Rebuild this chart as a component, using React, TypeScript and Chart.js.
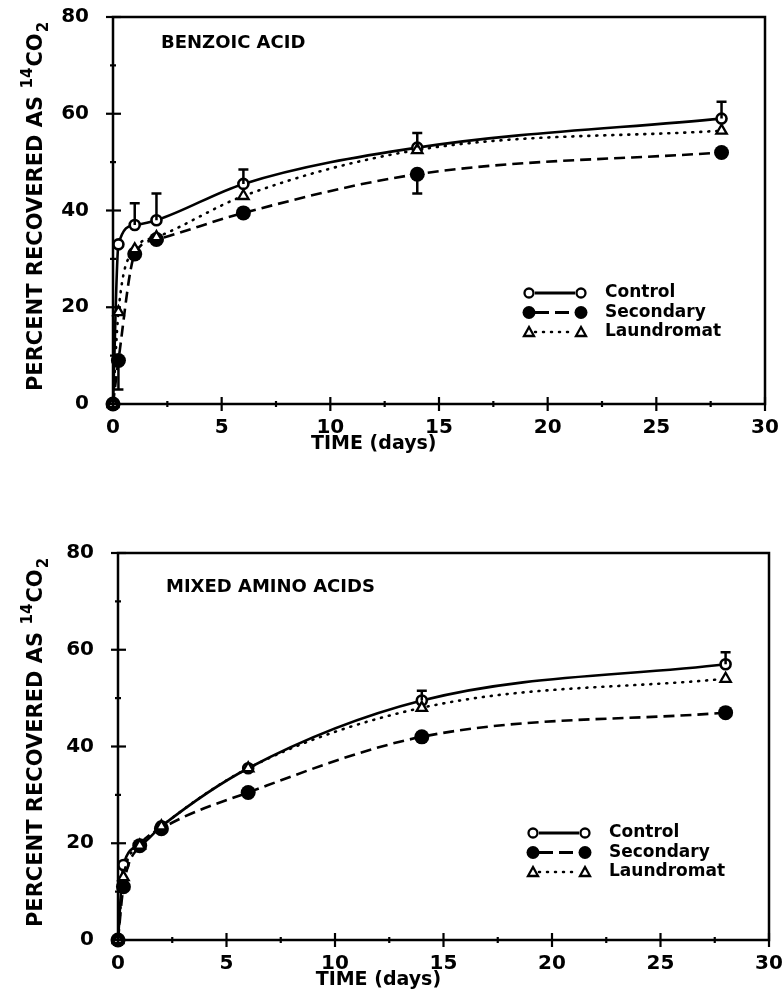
import React, { useEffect, useRef } from "react";
import { Chart, registerables } from "chart.js";

Chart.register(...registerables);

// ---- data ----
const days = [0, 0.25, 1, 2, 6, 14, 28];
const xTicks = [0, 5, 10, 15, 20, 25, 30];
const yTicks = [0, 20, 40, 60, 80];
const seriesNames = ["Control", "Secondary", "Laundromat"];

const benzoicControl = [0, 33, 37, 38, 45.5, 53, 59];
const benzoicControlErrUp = [0, 0, 4.5, 5.5, 3, 3, 3.5];
const benzoicSecondary = [0, 9, 31, 34, 39.5, 47.5, 52];
const benzoicSecondaryErrDown = [0, 6, 0, 0, 0, 4, 0];
const benzoicLaundromat = [0, 19, 32, 34.5, 43, 52.5, 56.5];

const aminoControl = [0, 15.5, 19.5, 23.5, 35.5, 49.5, 57];
const aminoControlErrUp = [0, 0, 0, 0, 0, 2, 2.5];
const aminoSecondary = [0, 11, 19.5, 23, 30.5, 42, 47];
const aminoSecondaryErrDown = [0, 0, 0, 0, 0, 0, 0];
const aminoLaundromat = [0, 13, 19.5, 23.5, 35.5, 48, 54];

const FONT = "'DejaVu Sans', 'Liberation Sans', sans-serif";

const toXY = (vals: number[]) => vals.map((v, i) => ({ x: days[i], y: v }));

const DASH_SEC = [11, 6];
const DASH_LAU = [1, 7];

const decorPlugin = {
  id: "decor",
  afterDatasetsDraw(chart: any) {
    const cfg = chart.options.plugins.decor;
    const { ctx, chartArea } = chart;
    const xs = chart.scales.x;
    const ys = chart.scales.y;
    const L = chartArea.left, R = chartArea.right, T = chartArea.top, B = chartArea.bottom;
    ctx.save();
    ctx.strokeStyle = "#000";
    ctx.fillStyle = "#000";
    // frame
    ctx.lineWidth = 2.5;
    ctx.setLineDash([]);
    ctx.strokeRect(L, T, R - L, B - T);
    // ticks
    ctx.lineWidth = 2.2;
    for (let v = 0; v <= 80; v += 10) {
      const py = ys.getPixelForValue(v);
      const major = v % 20 === 0;
      ctx.beginPath();
      ctx.moveTo(L - (major ? 7 : 3), py);
      ctx.lineTo(L + (major ? 8 : 3), py);
      ctx.stroke();
    }
    for (let v = 0; v <= 30; v += 2.5) {
      const px = xs.getPixelForValue(v);
      const major = v % 5 === 0;
      ctx.beginPath();
      ctx.moveTo(px, B - (major ? 7 : 3));
      ctx.lineTo(px, B + (major ? 7 : 3));
      ctx.stroke();
    }
    // error bars
    ctx.lineWidth = 2.5;
    const drawErr = (vals: number[], errs: number[], dir: number) => {
      vals.forEach((v, i) => {
        const e = errs[i];
        if (!e) return;
        const px = xs.getPixelForValue(days[i]);
        const p0 = ys.getPixelForValue(v);
        const p1 = ys.getPixelForValue(v + dir * e);
        ctx.beginPath();
        ctx.moveTo(px, p0);
        ctx.lineTo(px, p1);
        ctx.moveTo(px - 5, p1);
        ctx.lineTo(px + 5, p1);
        ctx.stroke();
      });
    };
    drawErr(cfg.control, cfg.controlErrUp, 1);
    drawErr(cfg.secondary, cfg.secondaryErrDown, -1);

    // panel title
    ctx.font = `bold 18px ${FONT}`;
    ctx.textBaseline = "alphabetic";
    ctx.textAlign = "left";
    ctx.fillText(cfg.title, L + 48, T + cfg.titleOffset);

    // legend
    const lx0 = R - 236, lx1 = R - 184, ltx = R - 160;
    const drawMarker = (k: number, x: number, y: number, s: number) => {
      ctx.setLineDash([]);
      ctx.lineWidth = 2.3;
      if (k === 0) {
        ctx.beginPath();
        ctx.arc(x, y, 4.5 * s, 0, Math.PI * 2);
        ctx.fillStyle = "#fff";
        ctx.fill();
        ctx.stroke();
      } else if (k === 1) {
        ctx.beginPath();
        ctx.arc(x, y, 6.5 * s, 0, Math.PI * 2);
        ctx.fillStyle = "#000";
        ctx.fill();
      } else {
        ctx.beginPath();
        ctx.moveTo(x, y - 5 * s);
        ctx.lineTo(x + 5 * s, y + 4 * s);
        ctx.lineTo(x - 5 * s, y + 4 * s);
        ctx.closePath();
        ctx.fillStyle = "#fff";
        ctx.fill();
        ctx.stroke();
      }
      ctx.fillStyle = "#000";
    };
    seriesNames.forEach((name, k) => {
      const y = T + cfg.legendTop + k * 19.5;
      ctx.lineWidth = k === 2 ? 2.5 : 2.8;
      ctx.lineCap = k === 2 ? "round" : "butt";
      ctx.setLineDash(k === 0 ? [] : k === 1 ? [14, 6] : DASH_LAU);
      ctx.beginPath();
      ctx.moveTo(lx0 + 6, y);
      ctx.lineTo(lx1 - 6, y);
      ctx.stroke();
      ctx.lineCap = "butt";
      drawMarker(k, lx0, y, 1);
      drawMarker(k, lx1, y, 1);
      ctx.font = `bold 17px ${FONT}`;
      ctx.textBaseline = "middle";
      ctx.fillText(name, ltx, y);
    });

    // x title
    ctx.font = `bold 19px ${FONT}`;
    ctx.textBaseline = "alphabetic";
    ctx.textAlign = "center";
    ctx.fillText("TIME (days)", L + (R - L) * 0.4, B + 45);

    // y title (rotated) with superscript/subscript
    const mainFont = `bold 21px ${FONT}`;
    const smallFont = `bold 15px ${FONT}`;
    ctx.font = mainFont;
    const p1 = "PERCENT RECOVERED AS ";
    const w1 = ctx.measureText(p1).width;
    const w3 = ctx.measureText("CO").width;
    ctx.font = smallFont;
    const w2 = ctx.measureText("14").width;
    const w4 = ctx.measureText("2").width;
    const total = w1 + w2 + w3 + w4 + 2;
    const cy = (T + B) / 2 + cfg.yTitleShift;
    ctx.translate(cfg.yTitleX, cy);
    ctx.rotate(-Math.PI / 2);
    ctx.textAlign = "left";
    let cx = -total / 2;
    ctx.font = mainFont;
    ctx.fillText(p1, cx, 0);
    cx += w1;
    ctx.font = smallFont;
    ctx.fillText("14", cx, -10);
    cx += w2 + 1;
    ctx.font = mainFont;
    ctx.fillText("CO", cx, 0);
    cx += w3 + 1;
    ctx.font = smallFont;
    ctx.fillText("2", cx, 6);
    ctx.restore();
  },
};

type PanelProps = {
  height: number;
  areaTop: number;
  areaBottom: number;
  areaLeft: number;
  areaRight: number;
  title: string;
  titleOffset: number;
  legendTop: number;
  control: number[];
  controlErrUp: number[];
  secondary: number[];
  secondaryErrDown: number[];
  laundromat: number[];
};

function Panel(p: PanelProps) {
  const ref = useRef<HTMLCanvasElement>(null);
  useEffect(() => {
    const canvas = ref.current!;
    const common = {
      borderColor: "#000",
      borderWidth: 2.6,
      fill: false,
      cubicInterpolationMode: "monotone" as const,
      clip: false as any,
      pointBorderColor: "#000",
    };
    const chart = new Chart(canvas, {
      type: "line",
      data: {
        datasets: [
          {
            ...common,
            label: "Laundromat",
            data: toXY(p.laundromat),
            borderDash: DASH_LAU,
            borderCapStyle: "round",
            pointStyle: "triangle",
            pointRadius: 6,
            pointBackgroundColor: "#fff",
            pointBorderWidth: 2.3,
          },
          {
            ...common,
            label: "Secondary",
            data: toXY(p.secondary),
            borderDash: DASH_SEC,
            pointStyle: "circle",
            pointRadius: 7.5,
            pointBackgroundColor: "#000",
            pointBorderWidth: 0,
          },
          {
            ...common,
            label: "Control",
            data: toXY(p.control),
            pointStyle: "circle",
            pointRadius: 5,
            pointBackgroundColor: "#fff",
            pointBorderWidth: 2.6,
          },
        ],
      },
      options: {
        animation: false,
        responsive: false,
        maintainAspectRatio: false,
        layout: {
          padding: { top: p.areaTop, right: 782 - p.areaRight, left: 0, bottom: 0 },
        },
        scales: {
          x: {
            type: "linear",
            min: 0,
            max: 30,
            afterFit: (s: any) => {
              s.height = p.height - p.areaBottom;
              s.paddingLeft = 0;
              s.paddingRight = 0;
            },
            afterBuildTicks: (s: any) => {
              s.ticks = xTicks.map((v) => ({ value: v }));
            },
            grid: { display: false, drawTicks: false },
            border: { display: false },
            ticks: {
              color: "#000",
              padding: 12,
              font: { family: FONT, size: 20, weight: "bold" },
              maxRotation: 0,
            },
          },
          y: {
            type: "linear",
            min: 0,
            max: 80,
            afterFit: (s: any) => {
              s.width = p.areaLeft;
              s.paddingTop = 0;
              s.paddingBottom = 0;
            },
            afterBuildTicks: (s: any) => {
              s.ticks = yTicks.map((v) => ({ value: v }));
            },
            grid: { display: false, drawTicks: false },
            border: { display: false },
            ticks: {
              color: "#000",
              padding: 24,
              font: { family: FONT, size: 20, weight: "bold" },
            },
          },
        },
        plugins: {
          legend: { display: false },
          tooltip: { enabled: false },
          decor: {
            title: p.title,
            titleOffset: p.titleOffset,
            legendTop: p.legendTop,
            control: p.control,
            controlErrUp: p.controlErrUp,
            secondary: p.secondary,
            secondaryErrDown: p.secondaryErrDown,
            yTitleX: 42,
            yTitleShift: -4,
          },
        } as any,
      },
      plugins: [decorPlugin],
    });
    return () => chart.destroy();
  }, []);
  return (
    <div style={{ width: 782, height: p.height, position: "relative" }}>
      <canvas ref={ref} width={782} height={p.height} style={{ display: "block" }} />
    </div>
  );
}

export default function App() {
  return (
    <div style={{ position: "absolute", left: 0, top: 0, width: 782, height: 1008, background: "#fff" }}>
      <Panel
        height={490}
        areaTop={17}
        areaBottom={404}
        areaLeft={113}
        areaRight={765}
        title="BENZOIC ACID"
        titleOffset={31}
        legendTop={276}
        control={benzoicControl}
        controlErrUp={benzoicControlErrUp}
        secondary={benzoicSecondary}
        secondaryErrDown={benzoicSecondaryErrDown}
        laundromat={benzoicLaundromat}
      />
      <Panel
        height={518}
        areaTop={63}
        areaBottom={450}
        areaLeft={118}
        areaRight={769}
        title="MIXED AMINO ACIDS"
        titleOffset={39}
        legendTop={280}
        control={aminoControl}
        controlErrUp={aminoControlErrUp}
        secondary={aminoSecondary}
        secondaryErrDown={aminoSecondaryErrDown}
        laundromat={aminoLaundromat}
      />
    </div>
  );
}
